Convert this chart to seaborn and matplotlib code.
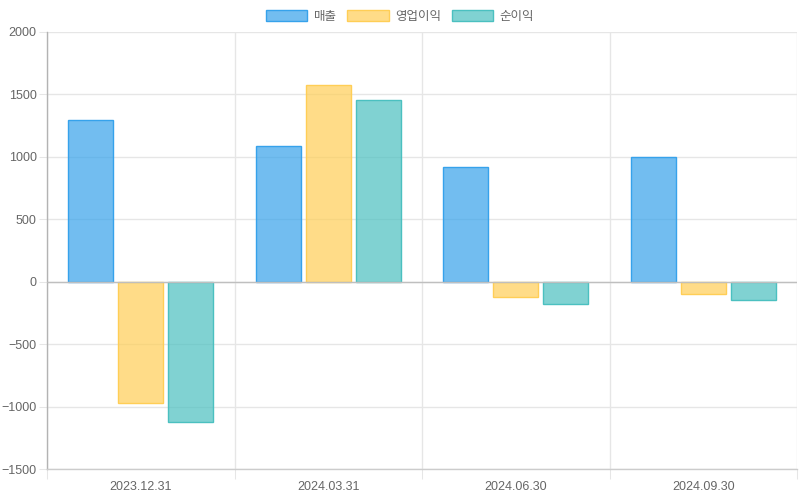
import matplotlib
matplotlib.use("Agg")
import matplotlib.pyplot as plt
import seaborn as sns
import pandas as pd
from matplotlib.patches import Patch
from matplotlib.ticker import FixedLocator

dates = ["2023.12.31", "2024.03.31", "2024.06.30", "2024.09.30"]
series = ["매출", "영업이익", "순이익"]
sales = [1292, 1088, 917, 998]
op_income = [-973, 1573, -123, -102]
net_income = [-1125, 1453, -179, -148]
colors = [(54/255, 162/255, 235/255), (255/255, 206/255, 86/255), (75/255, 192/255, 192/255)]

rows = []
for name, vals in zip(series, [sales, op_income, net_income]):
    for d, v in zip(dates, vals):
        rows.append({"date": d, "series": name, "value": v})
df = pd.DataFrame(rows)

sns.set_theme(style="white")
plt.rcParams["font.family"] = ["Liberation Sans", "Noto Sans CJK KR"]

fig = plt.figure(figsize=(8, 5), dpi=100)
ax = fig.add_axes([47/800, 31/500, 750/800, 437/500])

sns.barplot(data=df, x="date", y="value", hue="series", order=dates, hue_order=series,
            palette=colors, saturation=1, width=0.8, gap=0.1, ax=ax, legend=False, errorbar=None)

for cont, c in zip(ax.containers, colors):
    for p in cont:
        p.set_facecolor((*c, 0.7))
        p.set_edgecolor((*c, 1.0))
        p.set_linewidth(1)
        p.set_zorder(3)

grid_c = "#e6e6e6"
ax.set_xlim(-0.5, 3.5)
ax.set_ylim(-1500, 2000)
ax.set_yticks(range(-1500, 2001, 500))
ax.xaxis.set_minor_locator(FixedLocator([-0.5, 0.5, 1.5, 2.5, 3.5]))
ax.set_axisbelow(True)
ax.yaxis.grid(True, which="major", color=grid_c, linewidth=1, alpha=1)
ax.xaxis.grid(True, which="minor", color=grid_c, linewidth=1, alpha=1)
ax.xaxis.grid(False, which="major")
ax.axhline(0, color="#bfbfbf", linewidth=1, zorder=4)

for s in ["top", "right"]:
    ax.spines[s].set_visible(False)
ax.spines["left"].set_color("#b3b3b3")
ax.spines["left"].set_linewidth(1)
ax.spines["bottom"].set_color("#cccccc")
ax.spines["bottom"].set_linewidth(1)

ax.tick_params(axis="x", which="major", length=0, pad=9, labelsize=9, labelcolor="#666666")
ax.tick_params(axis="x", which="minor", length=7.5, width=0.75, color=grid_c, bottom=True)
ax.tick_params(axis="y", length=6, width=0.75, color=grid_c, pad=1.5, labelsize=9, labelcolor="#666666", left=True)
ax.set_xlabel("")
ax.set_ylabel("")

handles = [Patch(facecolor=(*c, 0.7), edgecolor=(*c, 1.0), linewidth=1, label=n) for c, n in zip(colors, series)]
fig.legend(handles=handles, loc="upper center", bbox_to_anchor=(0.5, 1 - 10/500), ncol=3, frameon=False,
           fontsize=9, labelcolor="#666666", handlelength=3.33, handleheight=1.0, handletextpad=0.5,
           columnspacing=0.85, borderaxespad=0, borderpad=0)

fig.savefig("out.png", dpi=100)
